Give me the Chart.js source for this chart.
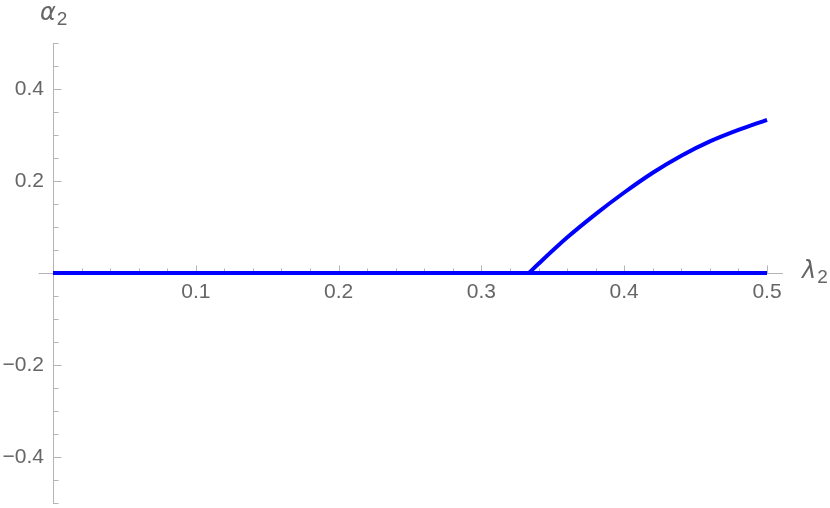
<!DOCTYPE html>
<html>
<head>
<meta charset="utf-8">
<script src="https://cdn.jsdelivr.net/npm/chart.js@4/dist/chart.umd.min.js"></script>
<style>
  body { margin: 0; background: #fff; }
  #wrap { width: 830px; height: 508px; }
</style>
</head>
<body>
<div id="wrap"><canvas id="chartAlpha" width="830" height="508"></canvas></div>
<script>
"use strict";

// zero branch, alpha2 = 0 over the whole range
var lambdaZero = [0, 0.5];
var alphaZero = [0, 0];

// non-trivial branch
var lambdaBranch = [0.3333, 0.340, 0.360, 0.380, 0.400, 0.420, 0.440, 0.460, 0.480, 0.500];
var alphaBranch  = [0.000, 0.020, 0.077, 0.128, 0.175, 0.218, 0.255, 0.286, 0.311, 0.333];

var xTickValues = [0.1, 0.2, 0.3, 0.4, 0.5];
var xTickLabels = ["0.1", "0.2", "0.3", "0.4", "0.5"];
var yTickValues = [-0.4, -0.2, 0.2, 0.4];
var yTickLabels = ["\u22120.4", "\u22120.2", "0.2", "0.4"];

var axisGray = "#b4b4b4";
var textGray = "#666666";

function toPoints(xs, ys) {
  return xs.map((x, i) => ({x: x, y: ys[i]}));
}

// Mathematica style ticks: pointing into the plot, minor ones shorter
var tickMarks = {
  id: "tickMarks",
  beforeDatasetsDraw: function(chart) {
    var ctx = chart.ctx;
    var sx = chart.scales.x, sy = chart.scales.y;
    var x0 = Math.round(sx.getPixelForValue(0)) + 0.5;
    var y0 = Math.round(sy.getPixelForValue(0)) + 0.5;
    ctx.save();
    ctx.strokeStyle = axisGray;
    ctx.lineWidth = 1;
    ctx.beginPath();
    // axis runs a little past the origin on the left
    ctx.moveTo(x0 - 15, y0);
    ctx.lineTo(x0, y0);
    for (var i = 1; i <= 25; i++) {
      var px = Math.round(sx.getPixelForValue(i * 0.02)) + 0.5;
      var len = (i % 5 === 0) ? 8 : 5;
      ctx.moveTo(px, y0);
      ctx.lineTo(px, y0 - len);
    }
    for (var j = -10; j <= 10; j++) {
      if (j === 0) continue;
      var py = Math.round(sy.getPixelForValue(j * 0.05)) + 0.5;
      var l = (j % 4 === 0) ? 8 : 5;
      ctx.moveTo(x0, py);
      ctx.lineTo(x0 + l, py);
    }
    ctx.stroke();
    ctx.restore();
  }
};

function drawName(ctx, sym, sub, x, y) {
  ctx.font = 'italic 24px "DejaVu Sans"';
  ctx.fillText(sym, x, y);
  var w = ctx.measureText(sym).width;
  ctx.font = '19px "Liberation Sans"';
  ctx.fillText(sub, x + w + 1, y + 5);
}

var axisNames = {
  id: "axisNames",
  afterDraw: function(chart) {
    var ctx = chart.ctx;
    ctx.save();
    ctx.fillStyle = textGray;
    ctx.textBaseline = "alphabetic";
    ctx.textAlign = "left";
    drawName(ctx, "\u03b1", "2", 40, 20);
    drawName(ctx, "\u03bb", "2", 802, 278);
    ctx.restore();
  }
};

var chartAlpha = new Chart("chartAlpha", {
  type: "scatter",
  data: {
    datasets: [
      {
        label: "zero",
        data: toPoints(lambdaZero, alphaZero),
        showLine: true,
        borderColor: "#0000ff",
        borderWidth: 4,
        pointRadius: 0,
        clip: false
      },
      {
        label: "branch",
        data: toPoints(lambdaBranch, alphaBranch),
        showLine: true,
        borderColor: "#0000ff",
        borderWidth: 4,
        pointRadius: 0,
        cubicInterpolationMode: "monotone",
        clip: false
      }
    ]
  },
  plugins: [tickMarks, axisNames],
  options: {
    responsive: false,
    animation: false,
    layout: {
      padding: {left: 0, right: 48, top: 43, bottom: 5}
    },
    plugins: {
      legend: {display: false},
      tooltip: {enabled: false}
    },
    scales: {
      x: {
        type: "linear",
        min: 0,
        max: 0.5105,
        position: {y: 0},
        grid: {display: false, drawTicks: false},
        border: {display: true, color: axisGray, width: 1},
        afterFit: function(scale) {
          scale.height = 0;
          scale.paddingLeft = 0;
          scale.paddingRight = 0;
        },
        afterBuildTicks: function(scale) {
          scale.ticks = xTickValues.map(v => ({value: v}));
        },
        ticks: {
          color: textGray,
          padding: 7,
          maxRotation: 0,
          autoSkip: false,
          font: {family: "Liberation Sans", size: 21},
          callback: function(v, i) { return xTickLabels[i]; }
        }
      },
      y: {
        type: "linear",
        min: -0.5,
        max: 0.5,
        position: "left",
        grid: {display: false, drawTicks: false},
        border: {display: true, color: axisGray, width: 1},
        afterFit: function(scale) {
          scale.width = 53;
          scale.paddingTop = 0;
          scale.paddingBottom = 0;
        },
        afterBuildTicks: function(scale) {
          scale.ticks = yTickValues.map(v => ({value: v}));
        },
        ticks: {
          color: textGray,
          padding: 9,
          autoSkip: false,
          font: {family: "Liberation Sans", size: 21},
          callback: function(v, i) { return yTickLabels[i]; }
        }
      }
    }
  }
});
</script>
</body>
</html>
